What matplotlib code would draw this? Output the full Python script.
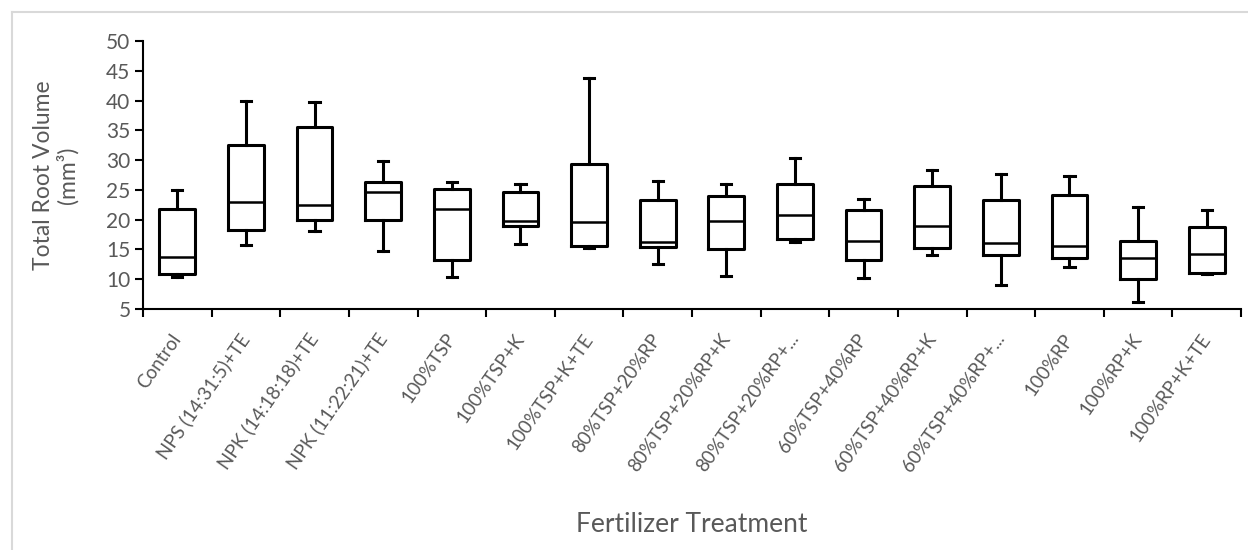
import matplotlib
matplotlib.use("Agg")
import matplotlib.pyplot as plt
from matplotlib.lines import Line2D

# 处理名称
treatments = ["Control", "NPS (14:31:5)+TE", "NPK (14:18:18)+TE", "NPK (11:22:21)+TE",
              "100%TSP", "100%TSP+K", "100%TSP+K+TE", "80%TSP+20%RP",
              "80%TSP+20%RP+K", "80%TSP+20%RP+...", "60%TSP+40%RP", "60%TSP+40%RP+K",
              "60%TSP+40%RP+...", "100%RP", "100%RP+K", "100%RP+K+TE"]

# 箱线图统计量
whisker_low = [10.3, 15.8, 18.1, 14.7, 10.3, 15.9, 15.2, 12.6, 10.5, 16.2, 10.2, 14.0, 9.1, 12.1, 6.1, 10.8]
q1 = [10.8, 18.3, 20.0, 19.9, 13.3, 18.9, 15.5, 15.4, 15.1, 16.7, 13.2, 15.2, 14.1, 13.5, 10.0, 11.1]
median = [13.7, 22.9, 22.5, 24.6, 21.8, 19.8, 19.6, 16.3, 19.7, 20.8, 16.4, 18.9, 16.1, 15.6, 13.5, 14.2]
q3 = [21.8, 32.5, 35.5, 26.3, 25.2, 24.6, 29.3, 23.3, 24.0, 26.0, 21.6, 25.6, 23.3, 24.1, 16.4, 18.8]
whisker_high = [25.0, 40.0, 39.7, 29.9, 26.3, 26.0, 43.8, 26.5, 26.0, 30.4, 23.5, 28.4, 27.6, 27.4, 22.2, 21.7]

plt.rcParams['font.family'] = ['Lato', 'DejaVu Sans']
grey = '#595959'

fig = plt.figure(figsize=(12.48, 5.5), dpi=100)
ax = fig.add_axes([143 / 1248, 1 - 309 / 550, (1241 - 143) / 1248, (309 - 41) / 550])

stats = []
for i, name in enumerate(treatments):
    stats.append(dict(label=name, whislo=whisker_low[i], q1=q1[i], med=median[i],
                      q3=q3[i], whishi=whisker_high[i], fliers=[]))

positions = list(range(1, len(treatments) + 1))
ax.bxp(stats, positions=positions, widths=0.52, showfliers=False,
       boxprops=dict(color='black', linewidth=2.2),
       medianprops=dict(color='black', linewidth=1.8),
       whiskerprops=dict(color='black', linewidth=2.2),
       capprops=dict(color='black', linewidth=2.2),
       capwidths=0.15)

ax.set_xlim(0.5, len(treatments) + 0.5)
ax.set_ylim(5, 50)
ax.set_yticks(range(5, 51, 5))

# 刻度线在类别之间, 标签在类别中心
ax.set_xticks([p - 0.5 for p in positions] + [len(treatments) + 0.5])
ax.set_xticklabels([])
ax.set_xticks(positions, minor=True)
ax.set_xticklabels(treatments, minor=True, rotation=55, ha='right',
                   rotation_mode='anchor', va='center', color=grey, fontsize=13.5)
ax.tick_params(axis='x', which='minor', length=0, pad=19)
ax.tick_params(axis='x', which='major', length=6, width=1.5, direction='out')
ax.tick_params(axis='y', length=6, width=1.5, direction='out', labelsize=15, labelcolor=grey, pad=3)

for side in ['top', 'right']:
    ax.spines[side].set_visible(False)
for side in ['left', 'bottom']:
    ax.spines[side].set_linewidth(1.5)
    ax.spines[side].set_color('black')

fig.text(56 / 1248, 1 - 175 / 550, "Total Root Volume\n(mm³)", rotation=90,
         ha='center', va='center', multialignment='center', fontsize=16.5, color=grey,
         linespacing=1.1)
fig.text(692 / 1248, 1 - 524 / 550, "Fertilizer Treatment", ha='center', va='center',
         fontsize=19, color=grey)

# 图表区域边框
fig.add_artist(Line2D([11.5 / 1248, 11.5 / 1248], [0, 1 - 11.5 / 550], color='#d9d9d9', lw=1.5))
fig.add_artist(Line2D([11.5 / 1248, 1], [1 - 11.5 / 550, 1 - 11.5 / 550], color='#d9d9d9', lw=1.5))

fig.savefig("out.png", dpi=100)
